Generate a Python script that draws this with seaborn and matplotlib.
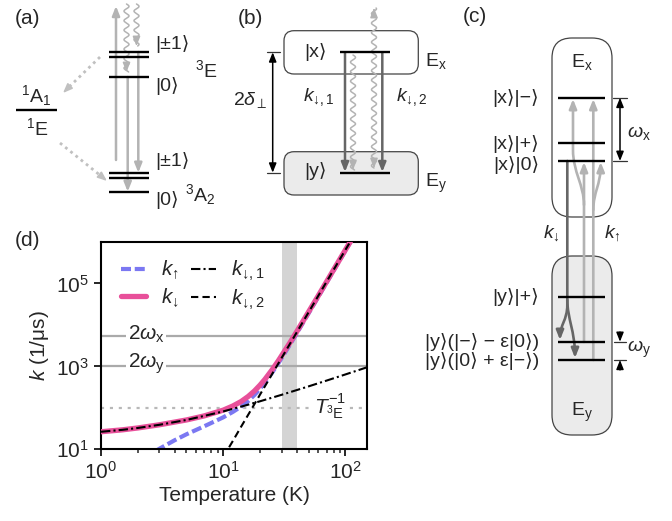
import numpy as np
import matplotlib
matplotlib.use("Agg")
import matplotlib.pyplot as plt
from matplotlib.patches import FancyBboxPatch, FancyArrowPatch
from matplotlib.path import Path
from matplotlib.ticker import NullLocator
import seaborn as sns

# ---- panel (d): rates vs temperature ----
T_UP = [2.8, 3, 4, 5, 7, 10, 12, 14, 16, 18, 20, 22, 25, 28, 30, 35, 40, 60, 80, 100, 120]
K_UP = [9.1, 10.3, 16.5, 23, 36, 59, 80, 107, 146, 204, 289, 410, 693, 1139, 1575, 3270,
        6290, 4.77e4, 2.04e5, 6.24e5, 1.55e6]

T_DOWN = [1, 1.5, 2, 3, 5, 7, 10, 12, 14, 16, 18, 20, 22, 25, 28, 30, 35, 40, 60, 80, 100, 120]
K_DOWN = [26.5, 29.5, 32.7, 39, 51, 64, 88, 111, 142, 188, 255, 353, 492, 813, 1314, 1800,
          3667, 6950, 5.1e4, 2.14e5, 6.5e5, 1.6e6]

T_D1 = [1, 1.5, 2, 3, 5, 7, 10, 15, 20, 30, 50, 70, 100, 150]
K_D1 = [26.5, 29.5, 32.7, 39, 51, 64, 82, 113, 144, 206, 330, 454, 640, 950]

T_D2 = [10, 12, 14, 16, 18, 20, 25, 30, 40, 60, 80, 100, 120]
K_D2 = [6.5, 16, 35, 68, 123, 209, 638, 1590, 6680, 5.07e4, 2.14e5, 6.5e5, 1.6e6]

TWO_WX = 5370
TWO_WY = 1050
INV_T3E = 100
BAND = (30, 40)

K_UP_TXT = r"$k_{\mathrm{↑}}$"
K_DN_TXT = r"$k_{\mathrm{↓}}$"
K_D1_TXT = r"$k_{\mathrm{↓,1}}$"
K_D2_TXT = r"$k_{\mathrm{↓,2}}$"

W, H = 672, 521
LIGHT = "#b3b3b3"
DARK = "#666666"
FS = 14

sns.set_style("ticks")
plt.rcParams["font.family"] = ["Liberation Sans", "DejaVu Sans"]
plt.rcParams["mathtext.fontset"] = "custom"
plt.rcParams["mathtext.rm"] = "Liberation Sans"
plt.rcParams["mathtext.it"] = "Liberation Sans:italic"
plt.rcParams["mathtext.bf"] = "Liberation Sans:bold"
plt.rcParams["mathtext.sf"] = "Liberation Sans"
plt.rcParams["mathtext.fallback"] = "stixsans"

fig = plt.figure(figsize=(W / 100, H / 100), dpi=100)
ov = fig.add_axes([0, 0, 1, 1])
ov.set_xlim(0, W)
ov.set_ylim(H, 0)
ov.axis("off")

HEAD = "-|>,head_length=0.55,head_width=0.22"
DHEAD = "<|-|>,head_length=0.55,head_width=0.22"


def level(x0, x1, y):
    ov.plot([x0, x1], [y, y], color="black", lw=1.7, solid_capstyle="butt", zorder=4)


def arrow(x0, y0, x1, y1, color, lw=1.6, style=HEAD, ms=10, z=3):
    ov.add_patch(FancyArrowPatch((x0, y0), (x1, y1), arrowstyle=style, mutation_scale=ms,
                                 color=color, lw=lw, shrinkA=0, shrinkB=0, zorder=z))


def path_arrow(verts, codes, color, lw=1.6):
    ov.add_patch(FancyArrowPatch(path=Path(verts, codes), arrowstyle=HEAD, mutation_scale=10,
                                 color=color, lw=lw, shrinkA=0, shrinkB=0, zorder=3))


def wavy(x, y0, y1, color=LIGHT, amp=2.5, period=9.5, head_end=True, head_start=False):
    ys = np.linspace(y0, y1, 300)
    xs = x + amp * np.sin(2 * np.pi * (ys - y0) / period)
    ov.plot(xs, ys, color=color, lw=1.1, zorder=2)
    s = np.sign(y1 - y0)
    if head_end:
        arrow(x, y1 - 4 * s, x, y1, color, lw=1.1)
    if head_start:
        arrow(x, y0 + 4 * s, x, y0, color, lw=1.1)


def label(x, y, s, ha="center", fs=FS, **kw):
    return ov.text(x, y, s, ha=ha, va="center", fontsize=fs, **kw)


# ---------------- (a) ----------------
label(27, 19, "(a)", fs=15)
for y in (51.7, 56.7, 76.7, 172.7, 177.7, 191.7):
    level(109, 149, y)
level(16, 57, 110)
label(155, 44, "|±1⟩", ha="left")
label(155, 86, "|0⟩", ha="left")
label(195, 70, r"$^3$E", ha="left")
label(155, 161, "|±1⟩", ha="left")
label(155, 200, "|0⟩", ha="left")
label(185, 195, r"$^3$A$_2$", ha="left")
label(36, 96, r"$^1$A$_1$")
label(37, 128, r"$^1$E")
arrow(116, 160, 116, 6, LIGHT, lw=1.8)
arrow(127.7, 77, 127.7, 191.7, LIGHT, lw=1.8)
arrow(138.3, 52, 138.3, 172.7, LIGHT, lw=1.8)
wavy(126.5, 4, 72)
wavy(136.5, 4, 46)
# dotted intersystem crossing arrows
ov.plot([100, 69], [57, 87], color="#c0c0c0", lw=2, ls=(0, (1, 1.4)), zorder=2)
arrow(69, 87, 63, 93, "#c0c0c0", lw=1.2)
ov.plot([60, 101], [143, 176], color="#c0c0c0", lw=2, ls=(0, (1, 1.4)), zorder=2)
arrow(101, 176, 107, 181, "#c0c0c0", lw=1.2)

# ---------------- (b) ----------------
label(250, 19, "(b)", fs=15)
ov.add_patch(FancyBboxPatch((284, 30.7), 134.3, 43.3, boxstyle="round,pad=0,rounding_size=10",
                            fc="white", ec="#444444", lw=0.9, zorder=1))
ov.add_patch(FancyBboxPatch((284, 151.7), 134.3, 43.3, boxstyle="round,pad=0,rounding_size=10",
                            fc="#ebebeb", ec="#444444", lw=0.9, zorder=1))
level(340, 390, 52.3)
level(340, 390, 172.7)
label(315, 52, "|x⟩")
label(315, 171, "|y⟩")
label(425, 61, r"E$_\mathrm{x}$", ha="left")
label(425, 183, r"E$_\mathrm{y}$", ha="left")
arrow(345, 53, 345, 172, DARK, lw=1.8)
arrow(382.3, 53, 382.3, 172, DARK, lw=1.8)
wavy(353, 55, 170)
wavy(374, 168, 8, head_start=True)
arrow(272.7, 52.3, 272.7, 172.7, "black", lw=1.1, style=DHEAD)
ov.plot([267, 280], [52.3, 52.3], color="#333333", lw=0.9)
ov.plot([267, 280], [172.7, 172.7], color="#333333", lw=0.9)
label(250, 100, r"2$\mathit{\delta}_\perp$")
label(319, 97, K_D1_TXT)
label(412, 97, K_D2_TXT)

# ---------------- (c) ----------------
label(475, 17, "(c)", fs=15)
ov.add_patch(FancyBboxPatch((552, 38), 60, 179, boxstyle="round,pad=0,rounding_size=20",
                            fc="white", ec="#444444", lw=0.9, zorder=1))
ov.add_patch(FancyBboxPatch((552, 256), 60, 179, boxstyle="round,pad=0,rounding_size=20",
                            fc="#ebebeb", ec="#444444", lw=0.9, zorder=1))
for y in (97.7, 143.3, 161, 296.7, 341.7, 360):
    level(558, 605, y)
label(582, 62, r"E$_\mathrm{x}$")
label(582, 412, r"E$_\mathrm{y}$")
label(539, 98, "|x⟩|−⟩", ha="right")
label(539, 144, "|x⟩|+⟩", ha="right")
label(539, 165, "|x⟩|0⟩", ha="right")
label(539, 297, "|y⟩|+⟩", ha="right")
label(539, 342, "|y⟩(|−⟩ − ε|0⟩)", ha="right")
label(539, 361, "|y⟩(|0⟩ + ε|−⟩)", ha="right")
arrow(620, 97.7, 620, 161, "black", lw=1.1, style=DHEAD)
for y in (97.7, 161):
    ov.plot([613, 627], [y, y], color="#333333", lw=0.9)
for y in (341.7, 360):
    ov.plot([614, 626], [y, y], color="#333333", lw=0.9)
arrow(620, 332, 620, 341.7, "black", lw=1.0)
arrow(620, 370, 620, 360, "black", lw=1.0)
label(627, 133, r"$\omega_\mathrm{x}$", ha="left")
label(627, 349, r"$\omega_\mathrm{y}$", ha="left")
label(551, 233, K_DN_TXT)
label(612, 233, K_UP_TXT)

C = Path.CURVE4
L = Path.LINETO
M = Path.MOVETO
# k_down: from |x>|0> into the two lower y levels
path_arrow([(567.3, 161), (567.3, 305), (567.3, 320), (560, 325), (560, 340)],
           [M, L, C, C, C], DARK, lw=1.9)
path_arrow([(567.3, 300), (567.3, 318), (575, 332), (575, 358)],
           [M, C, C, C], DARK, lw=1.9)
# k_up: from lower y levels up to x levels
path_arrow([(584, 342), (584, 205), (584, 185), (573, 172), (573, 150), (573, 99)],
           [M, L, C, C, C, L], LIGHT, lw=1.9)
arrow(584, 205, 584, 162, LIGHT, lw=1.9)
arrow(593.3, 360, 593.3, 99, LIGHT, lw=1.9)
path_arrow([(593.3, 210), (593.3, 192), (600.7, 185), (600.7, 162)],
           [M, C, C, C], LIGHT, lw=1.9)

# ---------------- (d) ----------------
label(28, 240, "(d)", fs=15)
ax = fig.add_axes([101 / W, 1 - 449.3 / H, 266 / W, 207.3 / H])
ax.axvspan(*BAND, color="#d4d4d4", lw=0, zorder=0)
ax.axhline(TWO_WX, color="#aaaaaa", lw=1.6, zorder=1)
ax.axhline(TWO_WY, color="#aaaaaa", lw=1.6, zorder=1)
ax.axhline(INV_T3E, color="#b8b8b8", lw=1.6, ls=(0, (1.4, 2.6)), zorder=1)

sns.lineplot(x=T_UP, y=K_UP, ax=ax, color="#7b78f2", lw=3.0, ls=(0, (2.4, 0.9)),
             label=K_UP_TXT, zorder=2)
sns.lineplot(x=T_DOWN, y=K_DOWN, ax=ax, color="#e8509a", lw=3.8, label=K_DN_TXT, zorder=3)
sns.lineplot(x=T_D1, y=K_D1, ax=ax, color="black", lw=1.5, ls=(0, (4.5, 1.5, 1, 1.5)),
             label=K_D1_TXT, zorder=4)
sns.lineplot(x=T_D2, y=K_D2, ax=ax, color="black", lw=1.5, ls=(0, (3.5, 2)),
             label=K_D2_TXT, zorder=4)

ax.set_xscale("log")
ax.set_yscale("log")
ax.set_xlim(1, 150)
ax.set_ylim(10, 1e6)
ax.set_yticks([1e1, 1e3, 1e5])
ax.yaxis.set_minor_locator(NullLocator())
ax.tick_params(which="major", length=5, width=1.4, direction="out", labelsize=15)
ax.tick_params(which="minor", length=3, width=1.1, direction="out")
for sp in ax.spines.values():
    sp.set_linewidth(1.5)
    sp.set_color("black")
ax.set_xlabel("Temperature (K)", fontsize=15, labelpad=2)
ax.set_ylabel(r"$k$ (1/μs)", fontsize=15, labelpad=4)

box = dict(fc="white", ec="none", pad=1.0)
ax.text(2.35, TWO_WX * 1.12, r"2$\omega_\mathrm{x}$", ha="center", va="center", fontsize=15, bbox=box, zorder=1.5)
ax.text(2.35, TWO_WY * 1.12, r"2$\omega_\mathrm{y}$", ha="center", va="center", fontsize=15, bbox=box, zorder=1.5)
ax.text(75, INV_T3E, r"$T^{-1}_{^3\mathrm{E}}$", ha="center", va="center", fontsize=15, bbox=box, zorder=1.5)

ax.legend(ncol=2, frameon=False, loc="upper left", bbox_to_anchor=(0.03, 0.98), fontsize=15,
          handlelength=1.2, columnspacing=0.6, handletextpad=0.7, labelspacing=0.2,
          borderaxespad=0.2)

fig.savefig("out.png", dpi=100)
